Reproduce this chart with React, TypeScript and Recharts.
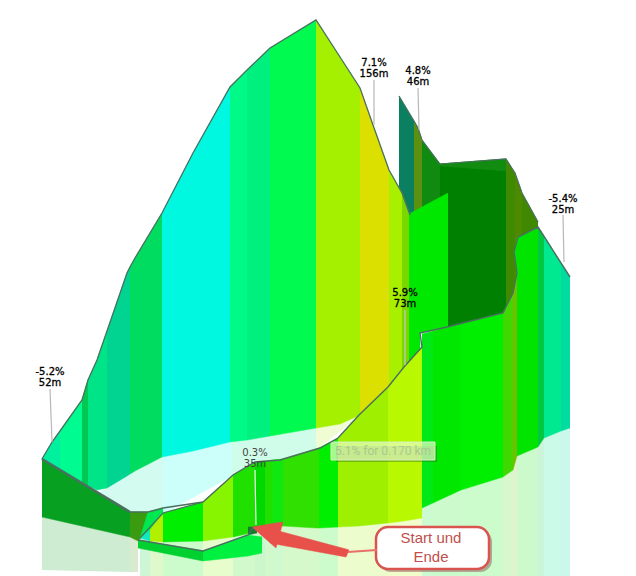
import {
  Area,
  ComposedChart,
  Line,
  ReferenceArea,
  ReferenceDot,
  XAxis,
  YAxis,
} from "recharts";

// far ribbon, left climb over the summit down to the saddle
const backX = [42, 52, 60, 82, 88, 97, 107, 127, 130, 135, 162, 193, 230, 247, 270, 316, 340, 360, 373, 389, 402, 410];
const backTop = [459, 442, 431, 400, 380, 360, 331, 273, 267, 258, 213, 153, 87, 70, 48, 20, 57, 88, 125, 170, 193, 215];
const backBottom = [459, 465, 470, 482, 486, 490, 488, 476, 474, 471, 457, 451, 442, 440, 436, 428, 424, 415, 410, 404, 395, 385];
const backColors = ["#00f0a0", "#00f0a0", "#00fc90", "#00c850", "#00e488", "#00e488", "#00d490", "#00d490", "#00dc60", "#00dc60", "#00f8e0", "#00f8e0", "#00fa88", "#00f080", "#00fa50", "#a4f000", "#a4f000", "#dce000", "#dce000", "#a8f000", "#78d800"];

// inner wall seen from behind
const darkX = [399, 414, 418, 422, 440, 506, 515, 522, 538];
const darkTop = [96, 121, 128, 140, 164, 159, 173, 193, 222];
const darkBottom = [187, 225, 225, 225, 335, 320, 300, 250, 235];
const darkColors = ["#0a8060", "#5c9010", "#5c9010", "#108a10", "#008000", "#3f8a00", "#4d8a00", "#408800"];
const stripX = [440, 506];
const stripTop = [164, 159];
const stripBottom = [166, 171];
const stripColors = ["#128c10"];

const midX = [409, 420, 420, 448];
const midTop = [214, 208, 208, 193];
const midBottom = [363, 351, 333, 327];
const midColors = ["#00e800", "#00e800", "#00e800"];

const rightX = [422, 433, 461, 503, 513, 517, 517, 538, 544, 561, 570];
const rightTop = [334, 331, 324, 313, 293, 273, 238, 227, 236, 263, 277];
const rightBottom = [508, 503, 490, 477, 470, 456, 456, 447, 438, 431, 428];
const rightColors = ["#00e818", "#00e800", "#00ee00", "#40d800", "#70c000", "#70c000", "#00e400", "#00c840", "#00e890", "#00dca0"];
const wedgeX = [514, 517];
const wedgeTop = [252, 238];
const wedgeBottom = [252, 273];
const wedgeColors = ["#00e400"];

const frontX = [140, 150, 163, 203, 233, 255, 265, 272, 283, 316, 319, 338, 359, 388, 404, 422];
const frontTop = [538, 530, 513, 502, 475, 462, 461, 460, 459, 449, 448, 438, 415, 387, 367, 347];
const frontBottom = [538, 541, 542, 541, 537, 532, 530, 528, 526, 528, 528, 527, 526, 523, 521, 518];
const frontColors = ["#10e8c0", "#b0f000", "#00ee00", "#88f500", "#20e000", "#00d800", "#20e000", "#10e810", "#30e000", "#30e000", "#00ee00", "#9ef000", "#9ef000", "#b8f800", "#b8f800"];
const frontGlowColors = ["#00d030", "#60e000", "#00ee00", "#88f500", "#20e000", "#00d800", "#20e000", "#10e810", "#30e000", "#30e000", "#00ee00", "#9ef000", "#9ef000", "#b8f800", "#b8f800"];

const innerX = [140, 148, 163];
const innerTop = [538, 512, 508];
const innerBottom = [538, 535, 515];
const innerColors = ["#00e850", "#00e850"];

const leftX = [42, 130, 138, 148];
const leftTop = [459, 512, 512, 512];
const leftBottom = [517, 537, 541, 530];
const leftColors = ["#08a020", "#3a9a10", "#3a9a10"];

const lowX = [138, 203, 248, 262];
const lowTop = [540, 551, 535, 537];
const lowBottom = [548, 561, 556, 553];
const lowColors = ["#00d030", "#00f040", "#00f040"];
const tipX = [248, 257];
const tipTop = [527, 527];
const tipBottom = [535, 533];
const tipColors = ["#157a30"];

const floorX = [100, 130, 163, 232, 316, 359];
const floorTop = [492, 474, 457, 442, 428, 415];
const floorBottom = [492, 513, 514, 476, 450, 416];
const floorColors = ["#d4fbf0", "#d4fbf0", "#ccfffa", "#d0fcea", "#effcd4"];

const arrowHeadX = [252, 276, 283];
const arrowHeadTop = [527, 523, 522];
const arrowHeadBottom = [527, 548, 522];
const arrowShaftX = [270, 275, 346, 349];
const arrowShaftTop = [543, 530, 549, 550];
const arrowShaftBottom = [543, 544, 557, 550];
const arrowColors = ["#e8504a", "#e8504a", "#e8504a"];

const edgeColor = "#4a7060";
const frontEdgeX = [130, 148, 163, 203, 233, 255, 280, 320, 338, 359, 388, 404, 422, 420, 447, 503, 513, 517, 514, 518, 538, 570];
const frontEdgeY = [512, 512, 508, 502, 475, 462, 460, 448, 438, 415, 387, 367, 347, 333, 327, 313, 293, 273, 252, 237, 227, 277];
const innerEdgeX = [140, 163, 203];
const innerEdgeY = [538, 513, 502];
const leftEdgeX = [42, 130];
const leftEdgeY = [459, 512];
const lowEdgeX = [138, 203, 248, 253];
const lowEdgeY = [540, 551, 535, 527];

const calloutLabels = [
  ["-5.2%", "52m"],
  ["7.1%", "156m"],
  ["4.8%", "46m"],
  ["-5.4%", "25m"],
  ["5.9%", "73m"],
  ["0.3%", "35m"],
];
const calloutX = [50, 374, 418, 563, 405, 255];
const calloutY = [371, 62, 70, 198, 292, 452];
const leaderEndX = [52, 374, 419, 564, 405, 256];
const leaderStartY = [389, 80, 88, 215, 310, 470];
const leaderEndY = [442, 125, 130, 262, 365, 525];
const leaderColors = ["#b8b8b8", "#b8b8b8", "#b8b8b8", "#b8b8b8", "#c8c8c8", "#eafff0"];

function bands(xs: number[], tops: number[], bottoms: number[], colors: string[]) {
  return colors.map((color, i) => ({
    color,
    points: [
      { x: xs[i], range: [tops[i], bottoms[i]] },
      { x: xs[i + 1], range: [tops[i + 1], bottoms[i + 1]] },
    ],
  }));
}

function toPoints(xs: number[], ys: number[]) {
  return xs.map((x, i) => ({ x, y: ys[i] }));
}

const reflections = [
  ...bands(leftX.slice(0, 3), leftBottom, [570, 572, 572], leftColors.slice(0, 2)),
  ...bands(frontX, frontBottom, frontX.map(() => 576), frontGlowColors),
  ...bands(rightX, rightBottom, rightX.map(() => 576), rightColors),
];

const surfaces = [
  ...bands(floorX, floorTop, floorBottom, floorColors),
  ...bands(darkX, darkTop, darkBottom, darkColors),
  ...bands(stripX, stripTop, stripBottom, stripColors),
  ...bands(backX, backTop, backBottom, backColors),
  ...bands(midX, midTop, midBottom, midColors),
  ...bands(rightX, rightTop, rightBottom, rightColors),
  ...bands(wedgeX, wedgeTop, wedgeBottom, wedgeColors),
  ...bands(leftX, leftTop, leftBottom, leftColors),
  ...bands(innerX, innerTop, innerBottom, innerColors),
  ...bands(frontX, frontTop, frontBottom, frontColors),
  ...bands(lowX, lowTop, lowBottom, lowColors),
  ...bands(tipX, tipTop, tipBottom, tipColors),
];

const arrow = [
  ...bands(arrowShaftX, arrowShaftTop, arrowShaftBottom, arrowColors),
  ...bands(arrowHeadX, arrowHeadTop, arrowHeadBottom, arrowColors.slice(0, 2)),
];

const edges = [
  { points: toPoints(backX, backTop), width: 1.3 },
  { points: toPoints(darkX, darkTop), width: 1.2 },
  { points: toPoints(frontEdgeX, frontEdgeY), width: 1.4 },
  { points: toPoints(innerEdgeX, innerEdgeY), width: 1.2 },
  { points: toPoints(leftEdgeX, leftEdgeY), width: 2.6 },
  { points: toPoints(lowEdgeX, lowEdgeY), width: 1.4 },
];

function textAt(key: string, x: number, y: number, text: string, color: string, size: number, family: string, halo = 0) {
  return (
    <ReferenceDot
      key={key}
      x={x}
      y={y}
      r={0}
      fill="none"
      stroke="none"
      label={{
        value: text,
        position: "center",
        fill: color,
        fontSize: size,
        fontFamily: family,
        stroke: halo ? color : "none",
        strokeWidth: halo,
      }}
    />
  );
}

export default function App() {
  return (
    <div style={{ position: "absolute", left: 0, top: 0, background: "#fff" }}>
      <ComposedChart width={636} height={576} margin={{ top: 0, right: 0, bottom: 0, left: 0 }}>
        <XAxis type="number" dataKey="x" domain={[0, 636]} hide />
        <YAxis type="number" domain={[0, 576]} reversed hide />

        {reflections.map((b, i) => (
          <Area
            key={"r" + i}
            data={b.points}
            dataKey="range"
            fill={b.color}
            fillOpacity={0.2}
            stroke="none"
            dot={false}
            activeDot={false}
            isAnimationActive={false}
          />
        ))}

        {surfaces.map((b, i) => (
          <Area
            key={"s" + i}
            data={b.points}
            dataKey="range"
            fill={b.color}
            fillOpacity={1}
            stroke={b.color}
            strokeWidth={0.5}
            dot={false}
            activeDot={false}
            isAnimationActive={false}
          />
        ))}

        {edges.map((e, i) => (
          <Line
            key={"e" + i}
            data={e.points}
            dataKey="y"
            stroke={edgeColor}
            strokeWidth={e.width}
            dot={false}
            activeDot={false}
            isAnimationActive={false}
          />
        ))}

        {calloutX.map((x, i) => (
          <Line
            key={"l" + i}
            data={[
              { x, y: leaderStartY[i] },
              { x: leaderEndX[i], y: leaderEndY[i] },
            ]}
            dataKey="y"
            stroke={leaderColors[i]}
            strokeWidth={1.2}
            dot={false}
            activeDot={false}
            isAnimationActive={false}
          />
        ))}

        {/* hover tooltip left in the screenshot */}
        <ReferenceArea x1={336} x2={437} y1={446} y2={462} fill="#2c6a1c" fillOpacity={0.4} stroke="none" />
        <ReferenceArea x1={331} x2={435} y1={442} y2={460} fill="#eaffc8" fillOpacity={0.7} stroke="#d8f0c0" />

        {arrow.map((b, i) => (
          <Area
            key={"a" + i}
            data={b.points}
            dataKey="range"
            fill={b.color}
            fillOpacity={1}
            stroke={b.color}
            strokeWidth={0.5}
            dot={false}
            activeDot={false}
            isAnimationActive={false}
          />
        ))}
        <Line
          data={[
            { x: 348, y: 552 },
            { x: 377, y: 550 },
          ]}
          dataKey="y"
          stroke="#e8706a"
          strokeWidth={2}
          dot={false}
          activeDot={false}
          isAnimationActive={false}
        />

        <ReferenceArea x1={379} x2={492} y1={530} y2={572} radius={12} fill="#8a5a5a" fillOpacity={0.5} stroke="none" />
        <ReferenceArea x1={376} x2={489} y1={527} y2={569} radius={12} fill="#ffffff" fillOpacity={1} stroke="#d9534f" strokeWidth={2.5} />

        {calloutLabels.flatMap((lines, i) =>
          lines.map((text, j) =>
            textAt(i + "-" + j, calloutX[i], calloutY[i] + j * 11.8, text, i === 5 ? "#444" : "#000", 10, "DejaVu Sans", i === 5 ? 0 : 0.3)
          )
        )}
        {textAt("tip", 383, 451, "5.1% for 0.170 km", "#a8c890", 12, "Roboto")}
        {textAt("s1", 431, 538, "Start und", "#c0504d", 15, "Liberation Sans")}
        {textAt("s2", 431, 557, "Ende", "#c0504d", 15, "Liberation Sans")}
      </ComposedChart>
    </div>
  );
}
